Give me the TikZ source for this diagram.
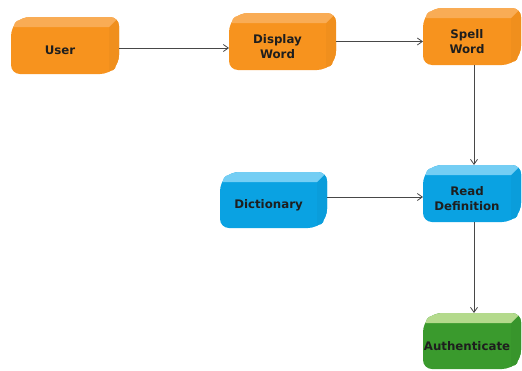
\documentclass[tikz,border=0pt]{standalone}
\usepackage{fontspec}
\setmainfont{DejaVu Sans}
\usetikzlibrary{arrows.meta,fit}
\definecolor{orF}{HTML}{F7931E}
\definecolor{orT}{HTML}{F9AC55}
\definecolor{blF}{HTML}{0AA2E2}
\definecolor{blT}{HTML}{74CEF4}
\definecolor{grF}{HTML}{3A9A2D}
\definecolor{grT}{HTML}{B4DA8C}
\definecolor{txt}{HTML}{1E1E1E}
\definecolor{ln}{HTML}{474747}
\tikzset{
  arr/.style={draw=ln, line width=0.8pt, -{Straight Barb[length=5pt,width=7pt]}},
  lbl/.style={font=\bfseries\fontsize{11.8}{14.5}\selectfont, text=txt, align=center, inner sep=0pt},
  frame/.style={inner sep=0pt, outer sep=0pt}
}
% name, x0, y0, x1, y1, front, top, text
\newcommand{\tdbox}[8]{%
  \begin{scope}
    \clip[rounded corners=9pt] (#2,#3+10) -- (#2+10,#3) -- (#4,#3) -- (#4,#5-10) -- (#4-10,#5) -- (#2,#5) -- cycle;
    \fill[#6] (#2-2,#3-2) rectangle (#4+2,#5+2);
    \fill[#6!97!black] (#4-10,#3+10) -- (#4,#3) -- (#4+2,#5+2) -- (#4-10,#5+2) -- cycle;
    \fill[#7] (#2-2,#3+10) -- (#2+10,#3-2) -- (#4+2,#3-2) -- (#4-10,#3+10) -- cycle;
  \end{scope}
  \node[frame, fit={(#2,#3)(#4,#5)}] (#1) {};
  \node[lbl] (#1-t) at ({(#2+#4-10)/2},{(#3+10+#5)/2}) {#8};
}
\begin{document}
\begin{tikzpicture}[x=1pt,y=-1pt]
  \useasboundingbox (0,0) rectangle (522,370);
  \tdbox{user}{11}{17}{119}{74}{orF}{orT}{User}
  \tdbox{display}{229}{13}{336}{70}{orF}{orT}{Display\\Word}
  \tdbox{spell}{423}{8}{521}{65}{orF}{orT}{Spell\\Word}
  \tdbox{dict}{220}{172}{327}{228}{blF}{blT}{Dictionary}
  \tdbox{read}{423}{165}{521}{222}{blF}{blT}{Read\\Definition}
  \tdbox{auth}{423}{313}{521}{369}{grF}{grT}{Authenticate}
  \coordinate (a1) at ([yshift=-2.5pt]user.east);
  \draw[arr] (a1) -- (a1 -| display.west);
  \draw[arr] (display.east) -- (display.east -| spell.west);
  \draw[arr] ([xshift=2pt]spell.south) -- ([xshift=2pt]read.north);
  \coordinate (a4) at ([yshift=3pt]dict.east);
  \draw[arr] (a4) -- (a4 -| read.west);
  \draw[arr] ([xshift=2pt]read.south) -- ([xshift=2pt]auth.north);
\end{tikzpicture}
\end{document}
